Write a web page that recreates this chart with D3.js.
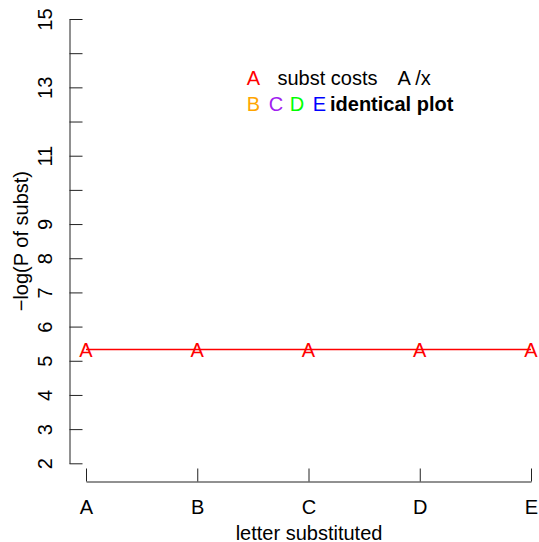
<!DOCTYPE html>
<html>
<head>
<meta charset="utf-8">
<script src="https://cdn.jsdelivr.net/npm/d3@7"></script>
<style>
  html, body { margin: 0; padding: 0; background: #fff; }
  svg { display: block; font-family: "Liberation Sans", Arial, sans-serif; }
</style>
</head>
<body>
<div id="chart"></div>
<script>
// Substitution cost for letter A against each substituted letter
const letters = ["A", "B", "C", "D", "E"];
const costs = [5.33, 5.33, 5.33, 5.33, 5.33];
const pointLabel = "A";

// Y axis ticks: every integer, with labels only where they fit
const yTicks = [2, 3, 4, 5, 6, 7, 8, 9, 10, 11, 12, 13, 14, 15];
const yTickLabels = [2, 3, 4, 5, 6, 7, 8, 9, 11, 13, 15];

// Legend entries
const otherLetters = ["B", "C", "D", "E"];
const otherColors = ["#FFA500", "#A020F0", "#00FF00", "#0000FF"];

const W = 539, H = 542;
const fontSize = 20;

const svg = d3.select("#chart").append("svg")
  .attr("width", W).attr("height", H);

const x = d3.scalePoint().domain(letters).range([86, 531]);
const y = d3.scaleLinear().domain([2, 15]).range([463.3, 19]);

// Y axis, ticks pointing into the plot, labels rotated
const yAxis = d3.axisLeft(y)
  .tickValues(yTicks)
  .tickSizeInner(-13)
  .tickSizeOuter(0)
  .tickFormat(d => yTickLabels.includes(d) ? String(d) : "");

const gy = svg.append("g")
  .attr("transform", "translate(69.5,0)")
  .call(yAxis);
gy.selectAll("path, line").attr("stroke", "#222").attr("stroke-width", 1);
gy.selectAll("text")
  .attr("x", null).attr("dy", null)
  .attr("transform", "translate(-18,0) rotate(-90)")
  .attr("text-anchor", "middle")
  .attr("fill", "#000")
  .style("font-family", "Liberation Sans, Arial, sans-serif")
  .style("font-size", fontSize + "px");

// X axis, ticks pointing up
const xAxis = d3.axisBottom(x)
  .tickSizeInner(-13)
  .tickSizeOuter(0)
  .tickPadding(18);

const gx = svg.append("g")
  .attr("transform", "translate(0,481.5)")
  .call(xAxis);
gx.selectAll("path, line").attr("stroke", "#222").attr("stroke-width", 1);
gx.selectAll("text")
  .attr("fill", "#000")
  .style("font-family", "Liberation Sans, Arial, sans-serif")
  .style("font-size", fontSize + "px");

// Axis titles
svg.append("text")
  .attr("x", 309).attr("y", 539.5)
  .attr("text-anchor", "middle")
  .style("font-size", fontSize + "px")
  .text("letter substituted");

svg.append("text")
  .attr("transform", `translate(28,${(y(2) + y(15)) / 2}) rotate(-90)`)
  .attr("text-anchor", "middle")
  .style("font-size", fontSize + "px")
  .text("\u2212log(P of subst)");

// Cost line with letter markers
const data = letters.map((l, i) => ({ letter: l, cost: costs[i] }));

svg.append("path")
  .datum(data)
  .attr("fill", "none")
  .attr("stroke", "#FF0000")
  .attr("stroke-width", 1.4)
  .attr("d", d3.line().x(d => x(d.letter)).y(d => y(d.cost)));

svg.selectAll("text.pt")
  .data(data)
  .join("text")
  .attr("class", "pt")
  .attr("x", d => x(d.letter))
  .attr("y", d => y(d.cost))
  .attr("dy", "0.4em")
  .attr("text-anchor", "middle")
  .attr("fill", "#FF0000")
  .style("font-size", fontSize + "px")
  .text(pointLabel);

// Legend
const leg = svg.append("g");
leg.append("text")
  .attr("x", 253.5).attr("y", 84.5)
  .attr("text-anchor", "middle")
  .attr("fill", "#FF0000")
  .style("font-size", fontSize + "px")
  .text(pointLabel);
leg.append("text")
  .attr("x", 277.5).attr("y", 84.5)
  .style("font-size", fontSize + "px")
  .text("subst costs");
leg.append("text")
  .attr("x", 397.5).attr("y", 84.5)
  .style("font-size", fontSize + "px")
  .text("A /x");

const legX = [253.5, 276, 297, 319.5];
leg.selectAll("text.other")
  .data(otherLetters)
  .join("text")
  .attr("class", "other")
  .attr("x", (d, i) => legX[i]).attr("y", 110.5)
  .attr("text-anchor", "middle")
  .attr("fill", (d, i) => otherColors[i])
  .style("font-size", fontSize + "px")
  .text(d => d);
leg.append("text")
  .attr("x", 330).attr("y", 110.5)
  .style("font-size", fontSize + "px")
  .style("font-weight", "bold")
  .text("identical plot");
</script>
</body>
</html>
